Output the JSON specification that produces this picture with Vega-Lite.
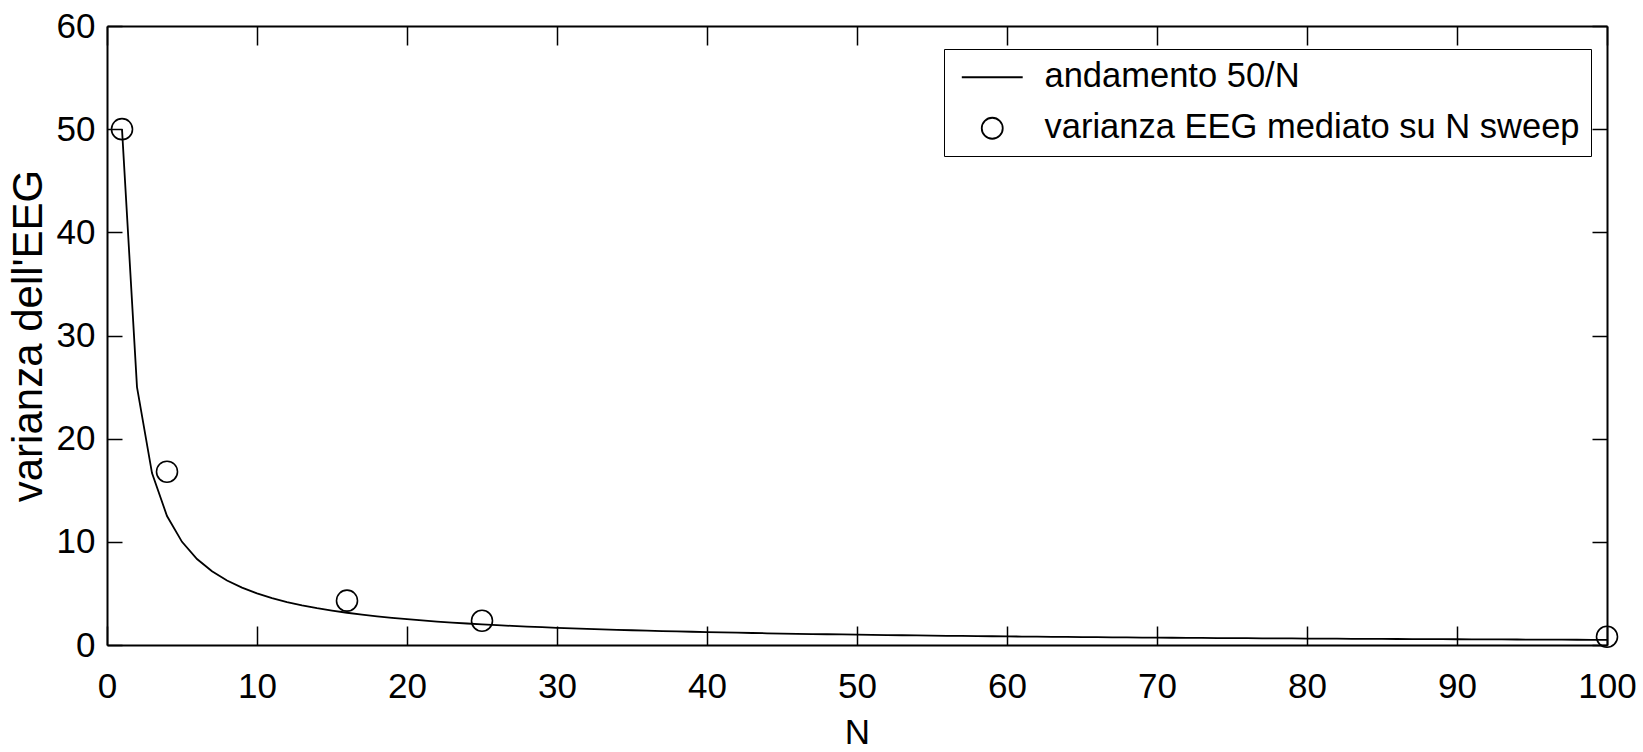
{
  "$schema": "https://vega.github.io/schema/vega-lite/v6.json",
  "width": 1500,
  "height": 619,
  "autosize": {"type": "none"},
  "padding": {"left": 107, "top": 26, "right": 36, "bottom": 107},
  "background": "white",
  "config": {
    "view": {"stroke": null},
    "font": "Liberation Sans",
    "axis": {
      "domainColor": "black",
      "domainWidth": 2,
      "tickColor": "black",
      "tickWidth": 1.5,
      "grid": false,
      "labelColor": "black",
      "labelFont": "Liberation Sans",
      "labelFontSize": 35,
      "titleColor": "black",
      "titleFont": "Liberation Sans",
      "titleFontWeight": "normal"
    }
  },
  "datasets": {
    "curve": [
      {"N": 1, "varianza": 50}, {"N": 2, "varianza": 25}, {"N": 3, "varianza": 16.6667}, {"N": 4, "varianza": 12.5},
      {"N": 5, "varianza": 10}, {"N": 6, "varianza": 8.3333}, {"N": 7, "varianza": 7.1429}, {"N": 8, "varianza": 6.25},
      {"N": 9, "varianza": 5.5556}, {"N": 10, "varianza": 5}, {"N": 11, "varianza": 4.5455}, {"N": 12, "varianza": 4.1667},
      {"N": 13, "varianza": 3.8462}, {"N": 14, "varianza": 3.5714}, {"N": 15, "varianza": 3.3333}, {"N": 16, "varianza": 3.125},
      {"N": 17, "varianza": 2.9412}, {"N": 18, "varianza": 2.7778}, {"N": 19, "varianza": 2.6316}, {"N": 20, "varianza": 2.5},
      {"N": 21, "varianza": 2.381}, {"N": 22, "varianza": 2.2727}, {"N": 23, "varianza": 2.1739}, {"N": 24, "varianza": 2.0833},
      {"N": 25, "varianza": 2}, {"N": 26, "varianza": 1.9231}, {"N": 27, "varianza": 1.8519}, {"N": 28, "varianza": 1.7857},
      {"N": 29, "varianza": 1.7241}, {"N": 30, "varianza": 1.6667}, {"N": 31, "varianza": 1.6129}, {"N": 32, "varianza": 1.5625},
      {"N": 33, "varianza": 1.5152}, {"N": 34, "varianza": 1.4706}, {"N": 35, "varianza": 1.4286}, {"N": 36, "varianza": 1.3889},
      {"N": 37, "varianza": 1.3514}, {"N": 38, "varianza": 1.3158}, {"N": 39, "varianza": 1.2821}, {"N": 40, "varianza": 1.25},
      {"N": 41, "varianza": 1.2195}, {"N": 42, "varianza": 1.1905}, {"N": 43, "varianza": 1.1628}, {"N": 44, "varianza": 1.1364},
      {"N": 45, "varianza": 1.1111}, {"N": 46, "varianza": 1.087}, {"N": 47, "varianza": 1.0638}, {"N": 48, "varianza": 1.0417},
      {"N": 49, "varianza": 1.0204}, {"N": 50, "varianza": 1}, {"N": 51, "varianza": 0.9804}, {"N": 52, "varianza": 0.9615},
      {"N": 53, "varianza": 0.9434}, {"N": 54, "varianza": 0.9259}, {"N": 55, "varianza": 0.9091}, {"N": 56, "varianza": 0.8929},
      {"N": 57, "varianza": 0.8772}, {"N": 58, "varianza": 0.8621}, {"N": 59, "varianza": 0.8475}, {"N": 60, "varianza": 0.8333},
      {"N": 61, "varianza": 0.8197}, {"N": 62, "varianza": 0.8065}, {"N": 63, "varianza": 0.7937}, {"N": 64, "varianza": 0.7813},
      {"N": 65, "varianza": 0.7692}, {"N": 66, "varianza": 0.7576}, {"N": 67, "varianza": 0.7463}, {"N": 68, "varianza": 0.7353},
      {"N": 69, "varianza": 0.7246}, {"N": 70, "varianza": 0.7143}, {"N": 71, "varianza": 0.7042}, {"N": 72, "varianza": 0.6944},
      {"N": 73, "varianza": 0.6849}, {"N": 74, "varianza": 0.6757}, {"N": 75, "varianza": 0.6667}, {"N": 76, "varianza": 0.6579},
      {"N": 77, "varianza": 0.6494}, {"N": 78, "varianza": 0.641}, {"N": 79, "varianza": 0.6329}, {"N": 80, "varianza": 0.625},
      {"N": 81, "varianza": 0.6173}, {"N": 82, "varianza": 0.6098}, {"N": 83, "varianza": 0.6024}, {"N": 84, "varianza": 0.5952},
      {"N": 85, "varianza": 0.5882}, {"N": 86, "varianza": 0.5814}, {"N": 87, "varianza": 0.5747}, {"N": 88, "varianza": 0.5682},
      {"N": 89, "varianza": 0.5618}, {"N": 90, "varianza": 0.5556}, {"N": 91, "varianza": 0.5495}, {"N": 92, "varianza": 0.5435},
      {"N": 93, "varianza": 0.5376}, {"N": 94, "varianza": 0.5319}, {"N": 95, "varianza": 0.5263}, {"N": 96, "varianza": 0.5208},
      {"N": 97, "varianza": 0.5155}, {"N": 98, "varianza": 0.5102}, {"N": 99, "varianza": 0.5051}, {"N": 100, "varianza": 0.5}
    ],
    "sweep": [
      {"N": 1, "varianza": 50, "serie": "varianza EEG mediato su N sweep"},
      {"N": 4, "varianza": 16.8, "serie": "varianza EEG mediato su N sweep"},
      {"N": 16, "varianza": 4.3, "serie": "varianza EEG mediato su N sweep"},
      {"N": 25, "varianza": 2.35, "serie": "varianza EEG mediato su N sweep"},
      {"N": 100, "varianza": 0.8, "serie": "varianza EEG mediato su N sweep"}
    ]
  },
  "resolve": {"axis": {"x": "independent", "y": "independent"}},
  "layer": [
    {
      "data": {"name": "curve"},
      "mark": {"type": "line", "color": "black", "strokeWidth": 1.8},
      "encoding": {
        "x": {
          "field": "N", "type": "quantitative",
          "scale": {"domain": [0, 100], "nice": false, "zero": false},
          "axis": {
            "orient": "bottom", "title": "N", "values": [0, 10, 20, 30, 40, 50, 60, 70, 80, 90, 100],
            "tickSize": -19, "labelPadding": 43, "labelFlush": false,
            "titleFontSize": 35, "titlePadding": 11
          }
        },
        "y": {
          "field": "varianza", "type": "quantitative",
          "scale": {"domain": [0, 60], "nice": false},
          "axis": {
            "orient": "left", "title": "varianza dell'EEG", "values": [0, 10, 20, 30, 40, 50, 60],
            "tickSize": -15, "labelPadding": 27, "labelFlush": false,
            "titleFontSize": 42, "titleX": -57, "titleY": 309.5, "titleAngle": 270, "titleBaseline": "bottom", "titleAlign": "center"
          }
        }
      }
    },
    {
      "data": {"name": "sweep"},
      "mark": {"type": "point", "filled": false, "color": "black", "strokeWidth": 1.6, "size": 441, "opacity": 1},
      "encoding": {
        "x": {
          "field": "N", "type": "quantitative",
          "axis": {"orient": "top", "title": null, "labels": false, "values": [0, 10, 20, 30, 40, 50, 60, 70, 80, 90, 100], "tickSize": -19}
        },
        "y": {
          "field": "varianza", "type": "quantitative",
          "axis": {"orient": "right", "title": null, "labels": false, "values": [0, 10, 20, 30, 40, 50, 60], "tickSize": -15}
        },
        "shape": {
          "field": "serie", "type": "nominal",
          "scale": {"domain": ["andamento 50/N", "varianza EEG mediato su N sweep"], "range": ["M-2.9,0L2.9,0", "circle"]},
          "legend": {
            "title": null,
            "orient": "none",
            "legendX": 837,
            "legendY": 23,
            "padding": 11,
            "strokeColor": "black",
            "fillColor": "white",
            "cornerRadius": 0,
            "symbolSize": 441,
            "symbolStrokeWidth": 1.8,
            "symbolStrokeColor": "black",
            "symbolOffset": 20,
            "labelOffset": 35,
            "labelFont": "Liberation Sans",
            "labelFontSize": 34.5,
            "labelColor": "black",
            "labelLimit": 0,
            "rowPadding": 16,
            "encode": {
              "legend": {"update": {"strokeWidth": {"value": 2}}}
            }
          }
        }
      }
    }
  ]
}
